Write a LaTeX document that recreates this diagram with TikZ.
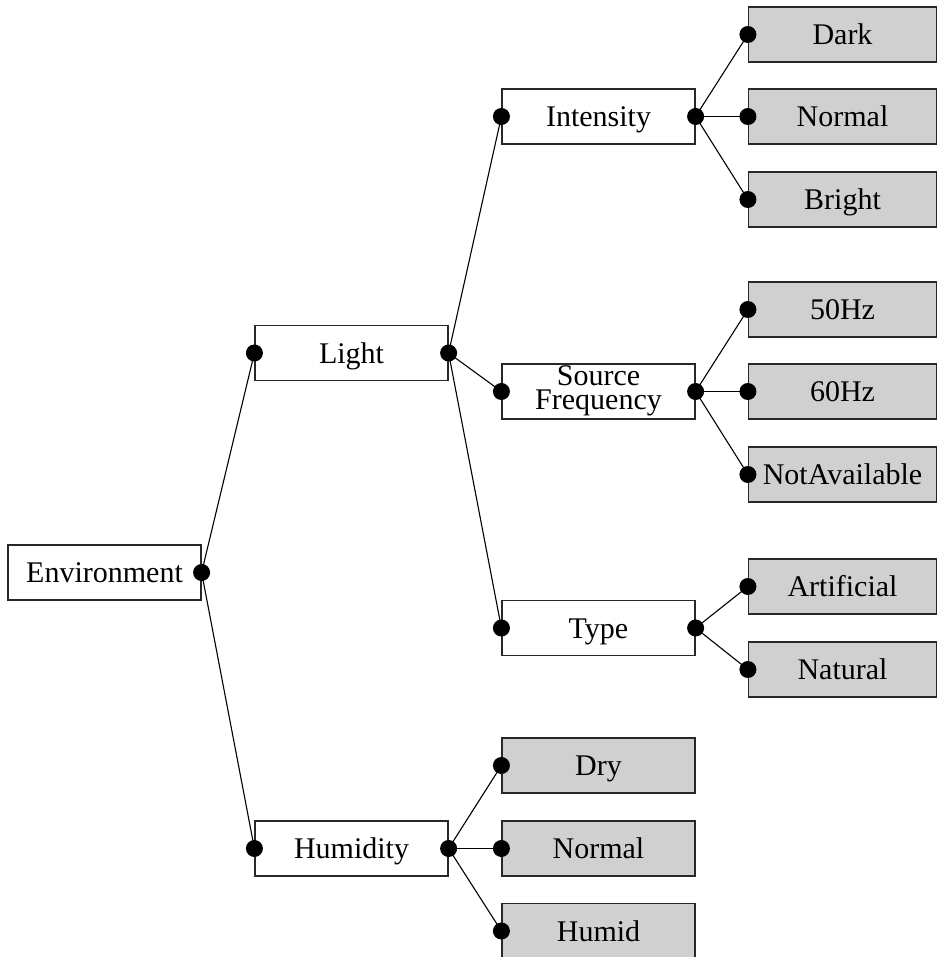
\documentclass[tikz,border=0pt]{standalone}
\usepackage{fontspec}
\setmainfont{Liberation Serif}
\definecolor{leafgray}{RGB}{208,208,208}
\definecolor{edgegray}{RGB}{40,40,40}
\tikzset{
  box/.style={draw=edgegray, line width=1.2pt, fill=white, rectangle,
    minimum width=193pt, minimum height=55pt, inner sep=0pt,
    text height=20pt, text depth=0pt,
    font=\fontsize{30}{30}\selectfont},
  leaf/.style={box, fill=leafgray},
  rleaf/.style={leaf, minimum width=188pt},
  link/.style={draw=black, line width=1.1pt},
  dotmark/.style={fill=black},
  line/.style={anchor=base, inner sep=0pt, font=\fontsize{30}{30}\selectfont},
}
\newcommand{\pin}[1]{\fill[dotmark] (#1) circle[radius=8.5pt];}
\begin{document}
\begin{tikzpicture}[x=1pt, y=-1pt]
\useasboundingbox (0,0) rectangle (937,957);

% tree nodes, column by column
\node[box] (env) at (104.5,572.5) {Environment};

\node[box] (light) at (351.5,353) {Light};
\node[box] (hum)   at (351.5,848.5) {Humidity};

\node[box] (int)  at (598.5,116.5) {Intensity};
\node[box, text height=0pt] (sf) at (598.5,391.5) {};
\node[line] (sfa) at (598.5,385.5) {Source};
\node[line] (sfb) at (598.5,409) {Frequency};
\node[box] (type) at (598.5,628) {Type};

\node[leaf] (dry)   at (598.5,765.5) {Dry};
\node[leaf] (hnorm) at (598.5,848.5) {Normal};
\node[leaf] (humid) at (598.5,931) {Humid};

\node[rleaf] (dark)  at (842.5,34.5)  {Dark};
\node[rleaf] (inorm) at (842.5,116.5) {Normal};
\node[rleaf] (bright) at (842.5,199.5) {Bright};

\node[rleaf] (f50) at (842.5,309.5) {50Hz};
\node[rleaf] (f60) at (842.5,391.5) {60Hz};
\node[rleaf] (fna) at (842.5,474.5) {NotAvailable};

\node[rleaf] (art) at (842.5,586.5) {Artificial};
\node[rleaf] (nat) at (842.5,669.5) {Natural};

% connectors from parent to child
\foreach \p/\c in {env/light, env/hum,
                   light/int, light/sf, light/type,
                   hum/dry, hum/hnorm, hum/humid,
                   int/dark, int/inorm, int/bright,
                   sf/f50, sf/f60, sf/fna,
                   type/art, type/nat}
  {\draw[link] (\p.east) -- (\c.west);}

% connection dots on the box edges
\foreach \n in {env, light, hum, int, sf, type}
  {\pin{\n.east}}
\foreach \n in {light, hum, int, sf, type, dry, hnorm, humid,
                dark, inorm, bright, f50, f60, fna, art, nat}
  {\pin{\n.west}}
\end{tikzpicture}
\end{document}
